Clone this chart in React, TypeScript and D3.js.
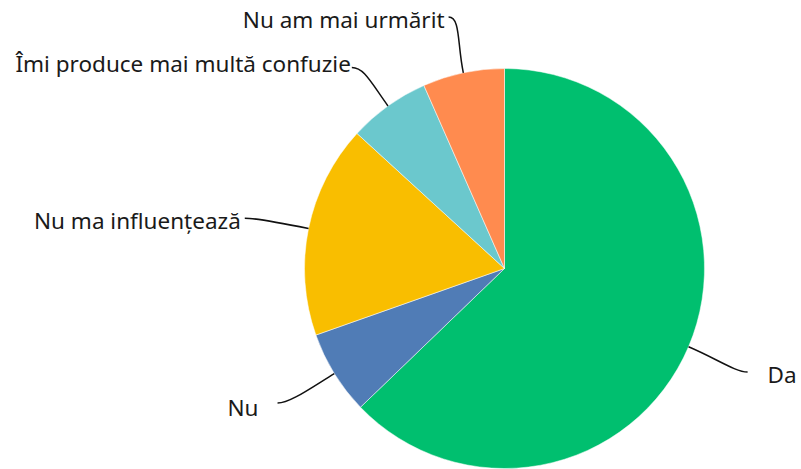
import React from 'react';
import * as d3 from 'd3';

const categories = ['Da', 'Nu', 'Nu ma influențează', 'Îmi produce mai multă confuzie', 'Nu am mai urmărit'];
const shares = [62.8, 6.8, 17.2, 6.6, 6.6];
const colors = ['#00bf6f', '#507cb6', '#f9be00', '#6bc8cd', '#ff8b4f'];

// label placement tweaks: nudge of the leader end, gap to the text, baseline shift
const labelLayout = [
  { nudge: [2, 1], gap: 20, base: 11 },
  { nudge: [-4, -3], gap: 19, base: 13 },
  { nudge: [-3, 2], gap: 4, base: 11 },
  { nudge: [0, 12], gap: 1, base: 4 },
  { nudge: [-2, 5], gap: 4, base: 11 },
];

const width = 801;
const height = 469;
const cx = 504.5;
const cy = 268.5;
const radius = 200;

const polar = (a: number, r: number): [number, number] => [cx + r * Math.sin(a), cy - r * Math.cos(a)];

export default function App() {
  const pie = d3.pie<number>().sort(null).value(d => d)(shares);
  const arc = d3.arc<d3.PieArcDatum<number>>().innerRadius(0).outerRadius(radius);

  return (
    <svg width={width} height={height} style={{ position: 'absolute', left: 0, top: 0 }}
      fontFamily="'Noto Sans', sans-serif" fontSize={22.5}>
      <rect width={width} height={height} fill="#fff" />
      <g transform={`translate(${cx},${cy})`}>
        {pie.map((d, i) => (
          <path key={i} d={arc(d) || ''} fill={colors[i]} stroke="#fff" strokeWidth={0.5} />
        ))}
      </g>
      {pie.map((d, i) => {
        const mid = (d.startAngle + d.endAngle) / 2;
        const lay = labelLayout[i];
        const right = Math.sin(mid) > 0;
        const p0 = polar(mid, radius);
        const c1 = polar(mid, 230);
        const e = polar(mid, 262);
        const end: [number, number] = [e[0] + lay.nudge[0], e[1] + lay.nudge[1]];
        const c2: [number, number] = [end[0] + (right ? -12 : 12), end[1]];
        const path = d3.path();
        path.moveTo(p0[0], p0[1]);
        path.bezierCurveTo(c1[0], c1[1], c2[0], c2[1], end[0], end[1]);
        return (
          <g key={i}>
            <path d={path.toString()} fill="none" stroke="#111" strokeWidth={1.5} />
            <text x={right ? end[0] + lay.gap : end[0] - lay.gap} y={end[1] + lay.base}
              textAnchor={right ? 'start' : 'end'} fill="#1a1a1a">
              {categories[i]}
            </text>
          </g>
        );
      })}
    </svg>
  );
}
